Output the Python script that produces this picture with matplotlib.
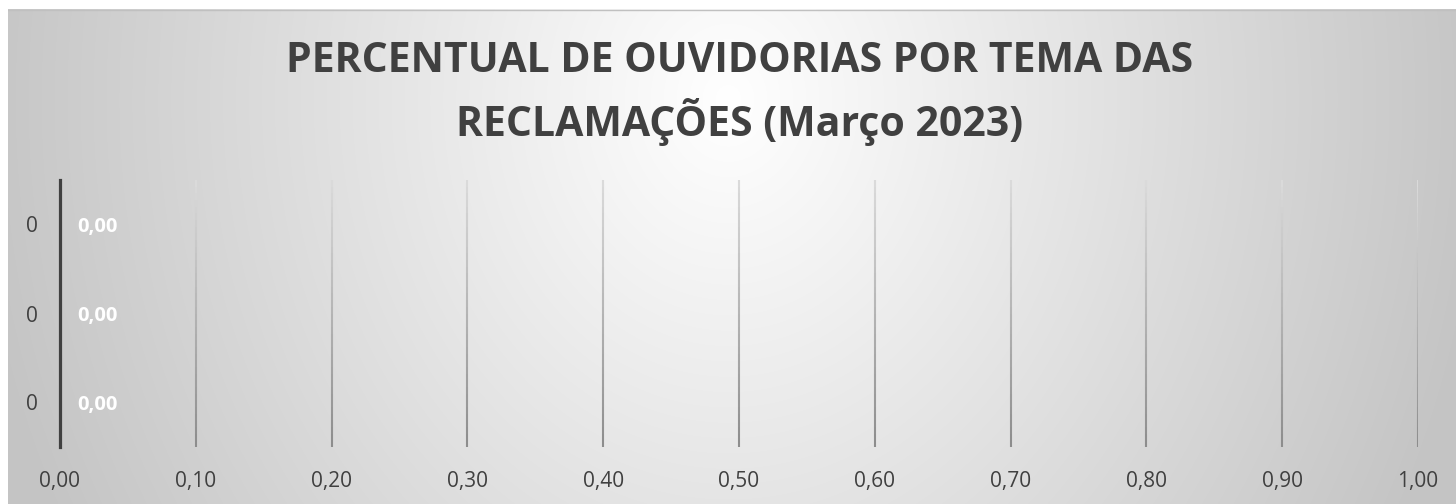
import numpy as np
import matplotlib
matplotlib.use("Agg")
import matplotlib.pyplot as plt
from matplotlib.collections import LineCollection
from matplotlib.ticker import FuncFormatter, MultipleLocator

# Data
categories = ["0", "0", "0"]
values = [0.0, 0.0, 0.0]
title_lines = ["PERCENTUAL DE OUVIDORIAS POR TEMA DAS", "RECLAMAÇÕES (Março 2023)"]

plt.rcParams['font.family'] = ['Open Sans', 'DejaVu Sans']
text_color = '#404040'

W, H = 1456, 504
fig = plt.figure(figsize=(W / 100, H / 100), dpi=100)
fig.patch.set_facecolor('white')

# radial gradient background
bg = fig.add_axes([8 / W, 0, (W - 8) / W, (H - 9) / H], zorder=0)
yy, xx = np.mgrid[9:H, 8:W]
r = np.sqrt(((xx - 728) / 760.0) ** 2 + ((yy - 100) / 900.0) ** 2)
r = np.clip(r, 0, 1)
shade = 1.0 - r * (1.0 - 0.77)
img = np.dstack([shade, shade, shade])
bg.imshow(img, aspect='auto', interpolation='bilinear')
bg.axhline(0, color='#c0c0c0', lw=1)
bg.set_axis_off()

# title
fig.text(740 / W, 1 - 61 / H, title_lines[0], ha='center', va='center',
         fontsize=29.5, fontweight='bold', color=text_color)
fig.text(740 / W, 1 - 122 / H, title_lines[1], ha='center', va='center',
         fontsize=29.5, fontweight='bold', color=text_color)

# plot area
ax = fig.add_axes([60 / W, 1 - 447 / H, (1418 - 60) / W, (447 - 180) / H], zorder=1)
ax.patch.set_alpha(0)
y = np.arange(len(categories))[::-1]
bars = ax.barh(y, values, height=0.6, color='#4472c4')
ax.set_xlim(0, 1)
ax.set_ylim(-0.5, len(categories) - 0.5)
ax.set_yticks(y)
ax.set_yticklabels(categories)
ax.xaxis.set_major_locator(MultipleLocator(0.1))
ax.xaxis.set_major_formatter(FuncFormatter(lambda v, p: f"{v:.2f}".replace('.', ',')))
ax.tick_params(axis='both', length=0, labelsize=15, colors=text_color)
ax.tick_params(axis='x', pad=17)
ax.tick_params(axis='y', pad=16)

for s in ['top', 'right', 'bottom']:
    ax.spines[s].set_visible(False)
ax.spines['left'].set_color(text_color)
ax.spines['left'].set_linewidth(2.3)
ax.spines['left'].set_zorder(5)

# gridlines with vertical gradient
n = 40
segs, cols = [], []
for t in ax.get_xticks():
    if t <= 0 or t > 1.0001:
        continue
    for i in range(n):
        y0, y1 = i / n, (i + 1) / n
        segs.append([(t, y0), (t, y1)])
        c = 0.55 + (y0 + y1) / 2 * (0.86 - 0.55)
        cols.append((c, c, c))
lc = LineCollection(segs, colors=cols, linewidths=1.5, transform=ax.get_xaxis_transform(), zorder=1)
ax.add_collection(lc)

# data labels
for b, v in zip(bars, values):
    ax.annotate(f"{v:.2f}".replace('.', ','), (b.get_width(), b.get_y() + b.get_height() / 2),
                xytext=(17, 0), textcoords='offset pixels', ha='left', va='center_baseline',
                fontsize=14.5, fontweight='bold', color='white')

fig.savefig('out.png', dpi=100)
